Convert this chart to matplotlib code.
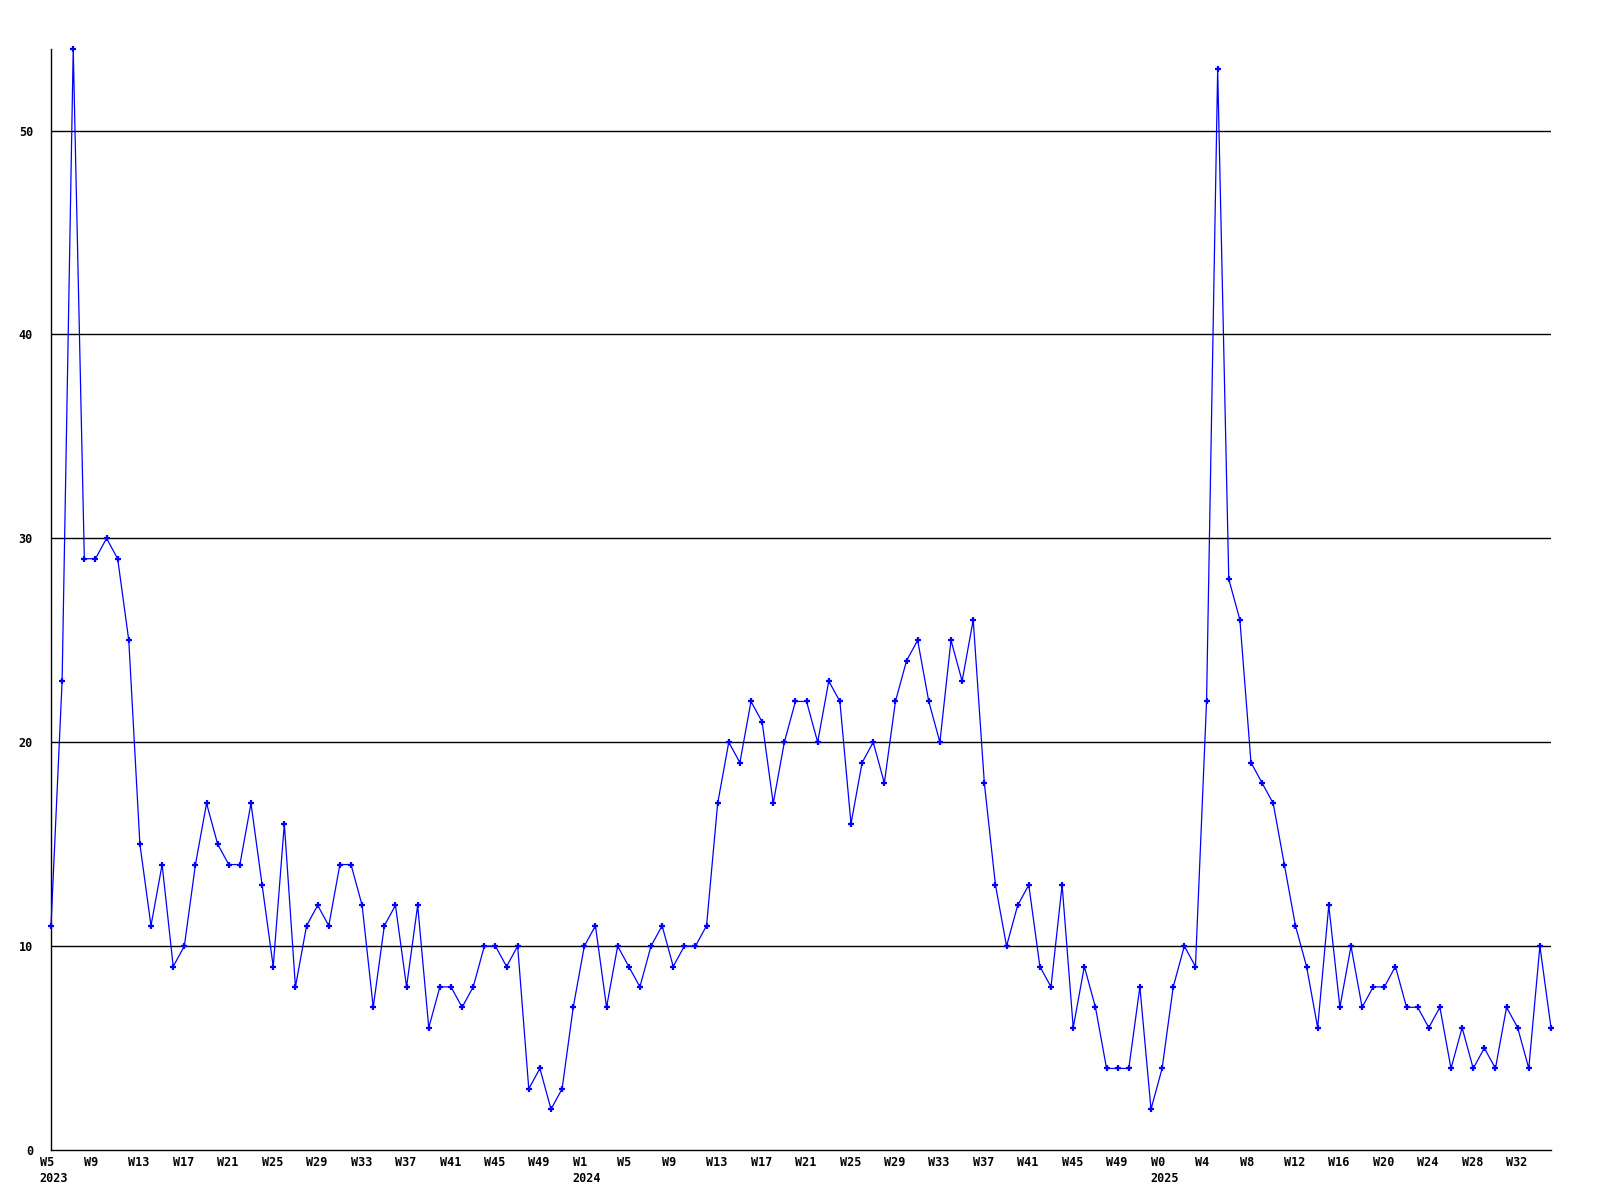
import numpy as np
import matplotlib
matplotlib.use("Agg")
import matplotlib.pyplot as plt
from matplotlib.transforms import ScaledTranslation

# weekly counts
vals_2023 = [11, 23, 54, 29, 29, 30, 29, 25, 15, 11, 14, 9, 10, 14, 17, 15,
             14, 14, 17, 13, 9, 16, 8, 11, 12, 11, 14, 14, 12, 7, 11, 12,
             8, 12, 6, 8, 8, 7, 8, 10, 10, 9, 10, 3, 4, 2, 3, 7]      # W5..W52
vals_2024 = [10, 11, 7, 10, 9, 8, 10, 11, 9, 10, 10, 11, 17, 20, 19, 22,
             21, 17, 20, 22, 22, 20, 23, 22, 16, 19, 20, 18, 22, 24, 25, 22,
             20, 25, 23, 26, 18, 13, 10, 12, 13, 9, 8, 13, 6, 9, 7, 4,
             4, 4, 8, 2]                                               # W1..W52
vals_2025 = [4, 8, 10, 9, 22, 53, 28, 26, 19, 18, 17, 14, 11, 9, 6, 12,
             7, 10, 7, 8, 8, 9, 7, 7, 6, 7, 4, 6, 4, 5, 4, 7,
             6, 4, 10, 6]                                              # W0..W35

weeks = ([(2023, w) for w in range(5, 53)] +
         [(2024, w) for w in range(1, 53)] +
         [(2025, w) for w in range(0, 36)])
values = vals_2023 + vals_2024 + vals_2025
x = np.arange(len(values))

fig = plt.figure(figsize=(16, 12), dpi=100)
ax = fig.add_axes([51 / 1600, 50 / 1200, 1500 / 1600, 1101 / 1200])

for yv in [10, 20, 30, 40, 50]:
    ax.axhline(yv, color="black", lw=1.0, zorder=1)

ax.plot(x, values, color="#0000ff", lw=0.9, marker="+", ms=4.5, mew=1.6,
        zorder=3, clip_on=False)

ax.set_xlim(0, len(values) - 1)
ax.set_ylim(0, 54)

# x labels: left aligned a bit before the tick, year under the first week
font = dict(family="DejaVu Sans Mono", fontweight="bold", fontsize=8.5)
shift = ax.get_xaxis_transform() + ScaledTranslation(-0.115, -0.06, fig.dpi_scale_trans)
prev_year = None
for i in x[::4]:
    yr, wk = weeks[i]
    lab = f"W{wk}"
    if yr != prev_year:
        lab += f"\n{yr}"
        prev_year = yr
    ax.text(i, 0, lab, transform=shift, ha="left", va="top", linespacing=1.3, **font)
ax.set_xticks([])

ax.set_yticks([0, 10, 20, 30, 40, 50])
ax.set_yticklabels(["0", "10", "20", "30", "40", "50"], **font)
ax.tick_params(axis="both", length=0)
ax.tick_params(axis="y", pad=13)

for s in ["top", "right"]:
    ax.spines[s].set_visible(False)
ax.spines["left"].set_linewidth(1.0)
ax.spines["bottom"].set_linewidth(1.0)

fig.savefig("out.png", dpi=100, facecolor="white")
